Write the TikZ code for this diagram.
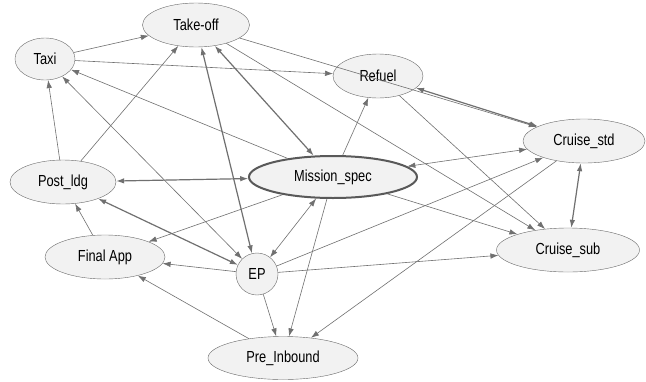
\documentclass[tikz,border=0pt]{standalone}
\usepackage{fontspec}
\usepackage{graphicx}
\usepackage{tikz}
\usetikzlibrary{arrows.meta,shapes.geometric}
\newfontfamily\lblfont{Liberation Sans}
\newcommand{\lbl}[1]{\scalebox{0.8}[1]{#1}}
\definecolor{ndfill}{HTML}{F2F2F2}
\definecolor{ndline}{HTML}{6A6A6A}
\definecolor{edge}{HTML}{707070}

\begin{document}
\begin{tikzpicture}[x=1pt,y=-1pt,
			ph/.style={ellipse,draw=ndline,thin,fill=ndfill,inner sep=0pt,minimum height=44pt,font=\lblfont\fontsize{16}{16}\selectfont},
			hub/.style={ph,draw=black!65,line width=2pt},
			lnk/.style={draw=edge,line width=0.6pt,-{Latex[length=8pt,width=5.5pt]}},
			bi/.style={lnk,{Latex[length=8pt,width=5.5pt]}-{Latex[length=8pt,width=5.5pt]}},
			pr/.style={bi,line width=1.2pt}
			]
			\useasboundingbox[fill=white] (0,0) rectangle (646,381);
			\node[ph,minimum width=107pt] (tko) at (196,25) {\lbl{Take-off}};
			\node[ph,minimum width=60pt,minimum height=42pt] (taxi) at (45,59) {\lbl{Taxi}};
			\node[ph,minimum width=90pt] (ref) at (378,76) {\lbl{Refuel}};
			\node[ph,minimum width=122pt] (cstd) at (584,141) {\lbl{Cruise\_std}};
			\node[hub,minimum width=168pt,minimum height=42pt] (msn) at (333,177) {\lbl{Mission\_spec}};
			\node[ph,minimum width=106pt] (pldg) at (63,182) {\lbl{Post\_ldg}};
			\node[ph,minimum width=120pt] (fapp) at (105,257) {\lbl{Final App}};
			\node[ph,circle,minimum width=0pt,minimum size=42pt] (ep) at (257,274) {\lbl{EP}};
			\node[ph,minimum width=150pt,minimum height=43pt] (preib) at (283,358) {\lbl{Pre\_Inbound}};
			\node[ph,minimum width=143pt] (csub) at (568,250) {\lbl{Cruise\_sub}};

			\draw[lnk] (taxi) -- (tko);
			\draw[lnk] (taxi) -- (ref);
			\draw[lnk] (pldg) -- (taxi);
			\draw[lnk] (pldg) -- (tko);
			\draw[bi] (taxi) -- (ep);
			\draw[lnk] (msn) -- (taxi);
			\draw[pr] (tko) -- (msn);
			\draw[pr] (tko) -- (ep);
			\draw[lnk] (tko) -- (cstd);
			\draw[lnk] (tko) -- (csub);
			\draw[pr] (ref) -- (cstd);
			\draw[lnk] (ref) -- (csub);
			\draw[lnk] (msn) -- (ref);
			\draw[bi] (msn) -- (cstd);
			\draw[lnk] (msn) -- (csub);
			\draw[lnk] (ep) -- (cstd);
			\draw[lnk] (ep) -- (csub);
			\draw[pr] (cstd) -- (csub);
			\draw[lnk] (cstd) -- (preib);
			\draw[pr] (pldg) -- (msn);
			\draw[pr] (pldg) -- (ep);
			\draw[lnk] (fapp) -- (pldg);
			\draw[lnk] (msn) -- (fapp);
			\draw[lnk] (ep) -- (fapp);
			\draw[lnk] (preib) -- (fapp);
			\draw[bi] (ep) -- (msn);
			\draw[lnk] (ep) -- (preib);
			\draw[lnk] (msn) -- (preib);
		\end{tikzpicture}
\end{document}
